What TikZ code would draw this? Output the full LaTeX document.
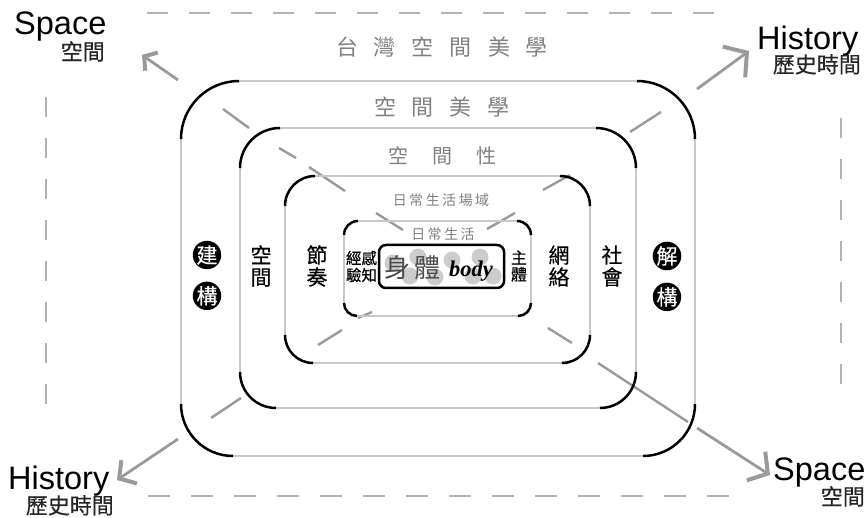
\documentclass[tikz,border=0pt]{standalone}
\usepackage{fontspec}
\setmainfont{Liberation Sans}
\newfontfamily\cjk{Noto Sans CJK TC}
\newfontfamily\cjkmed[FakeBold=0.35]{Noto Sans CJK TC}
\newfontfamily\bodyfont{Liberation Serif}
\usetikzlibrary{arrows.meta, positioning, calc}
\definecolor{ringgray}{HTML}{C8C8C8}
\definecolor{arrowgray}{HTML}{9A9A9A}
\definecolor{inkgray}{HTML}{808080}
\tikzset{
    ringline/.style={line width=2.5pt, ringgray},
    ringarc/.style={line width=2.5pt, black},
    framedash/.style={line width=1.3pt, black!30},
    diagdash/.style={line width=2.4pt, arrowgray},
    bigarrow/.style 2 args={line width=2.8pt, arrowgray, -{Straight Barb[length=#1, width=#2, line width=4pt]}},
    titlelabel/.style={text=inkgray, inner sep=0pt, font=\cjk},
    sidelabel/.style={text=black, inner sep=0pt, align=center, font=\cjkmed\fontsize{21}{22}\selectfont},
    dotlabel/.style={circle, fill=black, text=white, inner sep=0pt, minimum size=28pt, font=\cjkmed\fontsize{21}{21}\selectfont},
    axisword/.style={text=black, inner sep=0pt, anchor=base west, font=\fontsize{32.5}{34}\selectfont},
    axiscjk/.style={text=black!85, inner sep=0pt, font=\cjkmed\fontsize{22}{22}\selectfont},
}
\begin{document}
\begin{tikzpicture}[x=1pt, y=-1pt]
    \useasboundingbox (0,0) rectangle (867,518);

    % Dashed frame
    \draw[framedash, dash pattern=on 21pt off 21pt] (147,13) -- (730,13);
    \draw[framedash, dash pattern=on 22pt off 21pt] (148,496) -- (745,496);
    \draw[framedash, dash pattern=on 20pt off 21pt] (46,97) -- (46,410);
    \draw[framedash, dash pattern=on 20pt off 21pt] (841,118) -- (841,392);

    % Broken diagonals
    \foreach \ax/\ay/\bx/\by in {223/109/249/128, 279/148/296/158, 309/167/345/191, 376/213/403/230,
        487/229/515/213, 543/190/570/175, 630/132/661/112,
        358/318/372/312, 318/345/342/330, 211/418/241/398,
        548/328/572/343}
        \draw[diagdash] (\ax,\ay) -- (\bx,\by);

    % Arrows
    \coordinate (spaceTLtail) at (178,80);
    \coordinate (spaceTLtip) at (142,55);
    \coordinate (historyTRtail) at (697,89);
    \coordinate (historyTRtip) at (749,51);
    \coordinate (historyBLtail) at (178,439);
    \coordinate (historyBLtip) at (117,480);
    \coordinate (spaceBRmid) at (688,422);
    \coordinate (spaceBRrest) at (697,428);
    \coordinate (spaceBRtail) at (598,363);
    \coordinate (spaceBRtip) at (770,475);
    \draw[bigarrow={9pt}{22pt}] (spaceTLtail) -- (spaceTLtip);
    \draw[bigarrow={16pt}{38pt}] (historyTRtail) -- (historyTRtip);
    \draw[bigarrow={12pt}{28pt}] (historyBLtail) -- (historyBLtip);
    \draw[diagdash] (spaceBRtail) -- (spaceBRmid);
    \draw[bigarrow={14pt}{34pt}] (spaceBRrest) -- (spaceBRtip);

    % Rings: left/top/right/bottom/top radius/bottom radius
    \foreach \l/\t/\r/\b/\ra/\rb in {181/81/695/456/58/52, 240/128/636/408/40/36, 285/176/590/363/30/28, 344/221/531/316/14/13} {
        \draw[ringline] (\l,\t+\ra) -- (\l,\b-\rb);
        \draw[ringline] (\r,\t+\ra) -- (\r,\b-\rb);
        \draw[ringline] (\l+\ra,\t) -- (\r-\ra,\t);
        \draw[ringline] (\l+\rb,\b) -- (\r-\rb,\b);
        \draw[ringarc, rounded corners=\ra pt] (\l,\t+\ra) -- (\l,\t) -- (\l+\ra,\t);
        \draw[ringarc, rounded corners=\ra pt] (\r,\t+\ra) -- (\r,\t) -- (\r-\ra,\t);
        \draw[ringarc, rounded corners=\rb pt] (\l,\b-\rb) -- (\l,\b) -- (\l+\rb,\b);
        \draw[ringarc, rounded corners=\rb pt] (\r,\b-\rb) -- (\r,\b) -- (\r-\rb,\b);
    }

    % Dots behind the body label
    \foreach \x/\y in {393/263, 418/257, 410/276, 435/277, 452/260, 480/257, 473/276, 493/276}
        \fill[black!20] (\x,\y) circle (8.5pt);
    \draw[line width=2.5pt, black, rounded corners=7pt] (379,245) rectangle (504,288);

    % Ring titles
    \node[titlelabel, font=\cjk\fontsize{22}{22}\selectfont] (taiwan) at (442,47) {台\hspace{16pt}灣\hspace{16pt}空\hspace{16pt}間\hspace{16pt}美\hspace{16pt}學};
    \node[titlelabel, font=\cjk\fontsize{22}{22}\selectfont] (aesthetics) at (442,107) {空\hspace{16pt}間\hspace{16pt}美\hspace{16pt}學};
    \node[titlelabel, font=\cjk\fontsize{20}{20}\selectfont] (spatiality) at (442,156) {空\hspace{24pt}間\hspace{24pt}性};
    \node[titlelabel, font=\cjk\fontsize{14}{14}\selectfont] (lifefield) at (441,200) {日\hspace{2.5pt}常\hspace{2.5pt}生\hspace{2.5pt}活\hspace{2.5pt}場\hspace{2.5pt}域};
    \node[titlelabel, font=\cjk\fontsize{14}{14}\selectfont] (dailylife) at (443,234) {日\hspace{2.5pt}常\hspace{2.5pt}生\hspace{2.5pt}活};

    % Side labels
    \node[sidelabel] (kongjian) at (261,266) {空\\間};
    \node[sidelabel] (jiezou) at (317,266) {節\\奏};
    \node[sidelabel] (wangluo) at (559,266) {網\\絡};
    \node[sidelabel] (shehui) at (612,266) {社\\會};
    \node[dotlabel] (jian) at (207,255) {建};
    \node[dotlabel, below=12pt of jian] (gou) {構};
    \node[dotlabel] (jie) at (667,256) {解};
    \node[dotlabel, below=12pt of jie] (gouR) {構};

    % Centre
    \node[sidelabel, font=\cjkmed\fontsize{15.5}{17}\selectfont] (jingyan) at (361.5,266.5) {經感\\驗知};
    \node[sidelabel, font=\cjkmed\fontsize{16}{16.5}\selectfont] (zhuti) at (519,266) {主\\體};
    \node[titlelabel, text=black!70, font=\cjk\fontsize{26}{26}\selectfont] (shen) at (397,268) {身};
    \node[titlelabel, text=black!70, font=\cjk\fontsize{26}{26}\selectfont, right=4pt of shen] (ti) {體};
    \node[inner sep=0pt, anchor=base west, font=\bodyfont\bfseries\itshape\fontsize{22.5}{22.5}\selectfont] (body) at (449,277) {body};

    % Corner words
    \node[axisword] (spaceTL) at (14,35) {Space};
    \node[axiscjk, anchor=north east] (spaceTLzh) at (105,41) {空間};
    \node[axisword] (historyTR) at (757,50) {History};
    \node[axiscjk, anchor=north east] (historyTRzh) at (861,54) {歷史時間};
    \node[axisword] (historyBL) at (8,489) {History};
    \node[axiscjk, anchor=north east] (historyBLzh) at (114,495) {歷史時間};
    \node[axisword] (spaceBR) at (773,480) {Space};
    \node[axiscjk, anchor=north east] (spaceBRzh) at (865,486) {空間};
\end{tikzpicture}
\end{document}
